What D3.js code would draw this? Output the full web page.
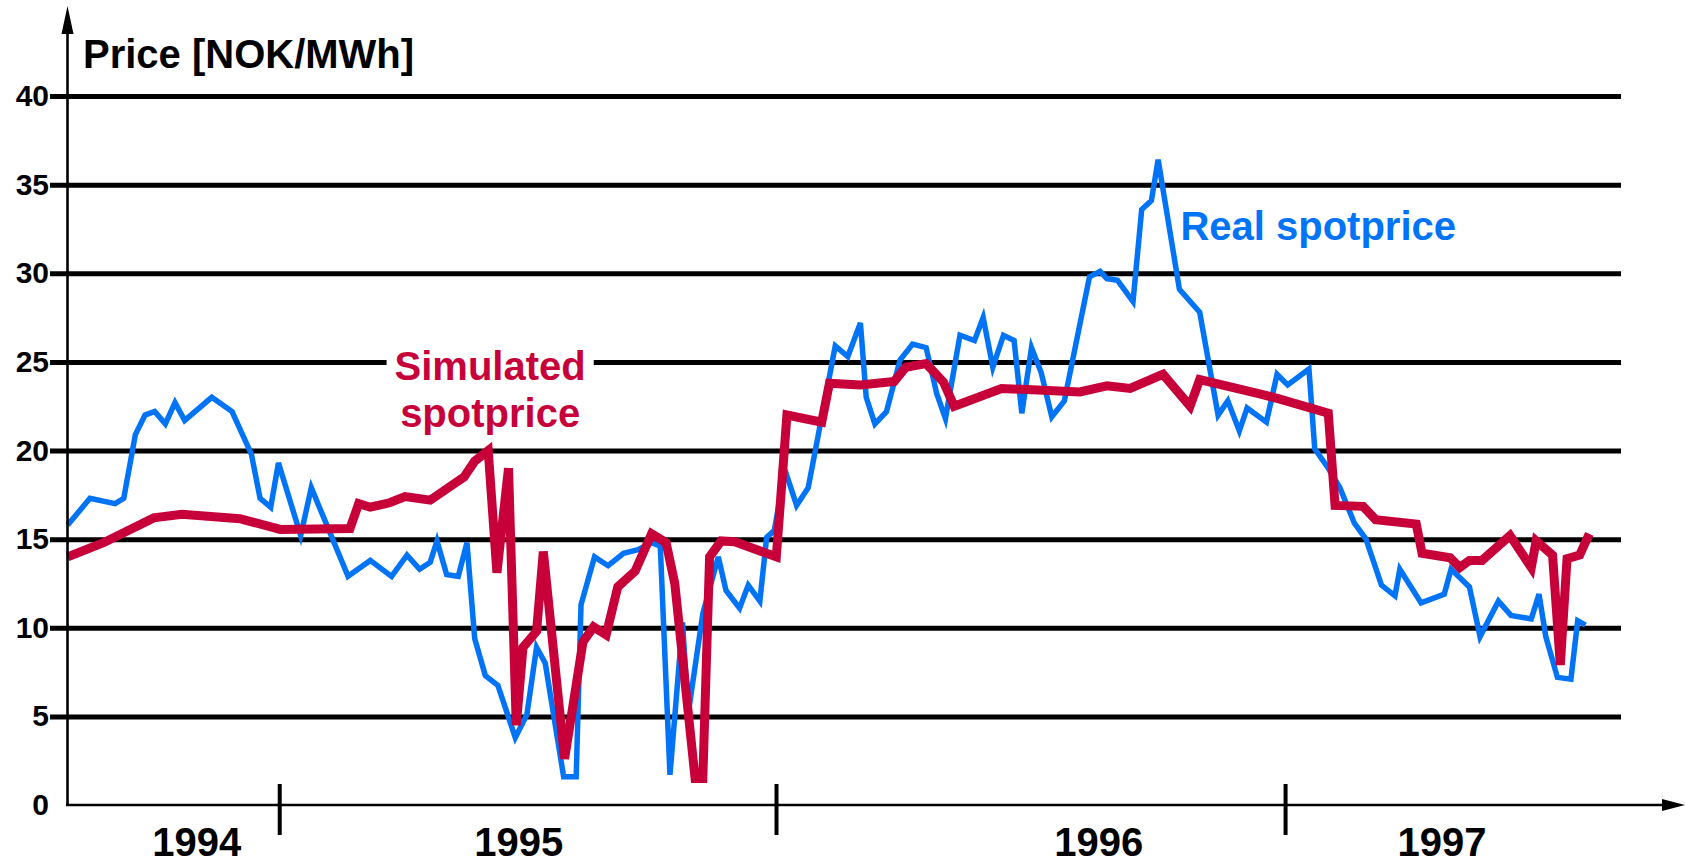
<!DOCTYPE html>
<html>
<head>
<meta charset="utf-8">
<script src="https://cdn.jsdelivr.net/npm/d3@7"></script>
<style>
  body { margin: 0; background: #fff; }
  svg { display: block; }
</style>
</head>
<body>
<svg></svg>
<script>
// weeks counted from the first observation (summer 1994), price in NOK/MWh
const realWeek  = [0, 2.3, 4.9, 5.8, 7.0, 8.0, 9.0, 10.1, 11.1, 12.1, 14.9, 17.0, 19.0, 19.9, 21.0, 21.8,
  24.1, 25.2, 29.0, 31.3, 33.5, 35.1, 36.4, 37.5, 38.2, 39.2, 40.4, 41.3, 42.1, 43.2, 44.5, 46.3,
  47.5, 48.5, 49.4, 51.3, 52.6, 53.1, 54.5, 55.9, 57.5, 59.0, 60.4, 61.3, 62.3, 63.6, 64.2, 65.7,
  67.3, 68.1, 69.5, 70.4, 71.6, 72.3, 73.1, 74.2, 75.4, 76.6, 79.4, 80.7, 82.0, 82.6, 83.5, 84.7,
  86.1, 87.4, 88.8, 89.9, 90.8, 92.3, 93.8, 94.7, 95.7, 96.8, 97.9, 98.7, 99.7, 100.7, 101.8, 103.1,
  105.7, 106.8, 107.5, 108.6, 110.2, 111.1, 112.1, 112.8, 115.0, 117.1, 119.0, 120.0, 121.2, 122.0,
  124.0, 125.1, 126.2, 128.4, 129.0, 130.4, 131.6, 133.1, 134.3, 135.9, 137.3, 137.8, 140.0, 142.4,
  143.1, 145.0, 146.1, 148.0, 149.3, 151.4, 152.2, 152.9, 154.1, 155.5, 156.2, 157.0];
const realPrice = [15.8, 17.3, 17.0, 17.3, 20.9, 22.0, 22.2, 21.5, 22.7, 21.7, 23.0, 22.2, 19.8, 17.3, 16.8, 19.3,
  15.2, 17.9, 12.9, 13.8, 12.9, 14.1, 13.3, 13.7, 14.9, 13.0, 12.9, 14.8, 9.4, 7.3, 6.75, 3.8,
  5.1, 8.9, 8.0, 1.6, 1.6, 11.3, 14.0, 13.5, 14.2, 14.4, 14.8, 14.6, 1.7, 10.3, 5.2, 10.8,
  14.0, 12.1, 11.1, 12.4, 11.5, 15.1, 15.5, 18.9, 16.9, 17.9, 25.9, 25.3, 27.2, 23.0, 21.5, 22.2,
  25.1, 26.0, 25.8, 23.2, 21.8, 26.5, 26.2, 27.5, 24.7, 26.5, 26.2, 22.1, 25.8, 24.4, 21.9, 22.8,
  29.8, 30.1, 29.7, 29.6, 28.4, 33.6, 34.1, 36.4, 29.1, 27.8, 22.0, 22.8, 21.1, 22.4,
  21.6, 24.3, 23.7, 24.6, 20.1, 19.0, 17.9, 15.9, 15.0, 12.4, 11.8, 13.3, 11.4, 11.9,
  13.3, 12.3, 9.5, 11.5, 10.7, 10.5, 11.9, 9.5, 7.2, 7.1, 10.4, 10.15];

const simWeek  = [0, 3.7, 8.9, 11.8, 17.8, 22.0, 29.2, 30.1, 31.3, 33.3, 34.9, 37.5, 41.0, 42.1, 43.5, 44.4,
  45.6, 46.4, 47.1, 48.5, 49.2, 51.4, 53.3, 54.4, 55.7, 56.9, 58.7, 60.4, 61.9, 62.8, 64.9, 65.7,
  66.4, 67.6, 69.0, 73.3, 74.4, 78.0, 78.8, 82.0, 85.5, 86.7, 88.8, 90.6, 91.7, 96.6, 104.7, 107.5,
  109.9, 113.3, 116.1, 117.1, 123.3, 125.4, 130.4, 131.1, 134.0, 135.3, 139.5, 140.1, 143.0, 144.0,
  145.0, 146.3, 149.2, 151.4, 151.9, 153.6, 154.4, 155.1, 156.4, 157.4];
const simPrice = [14.0, 14.8, 16.2, 16.4, 16.15, 15.55, 15.6, 17.0, 16.8, 17.05, 17.4, 17.2, 18.5, 19.4, 20.0, 13.1,
  19.0, 4.5, 8.9, 9.8, 14.3, 2.6, 9.2, 10.05, 9.6, 12.3, 13.2, 15.3, 14.8, 12.5, 1.5, 1.5,
  14.0, 14.9, 14.85, 14.0, 22.0, 21.6, 23.8, 23.7, 23.9, 24.7, 24.9, 23.85, 22.5, 23.5, 23.3, 23.65,
  23.5, 24.3, 22.5, 24.0, 23.2, 22.9, 22.1, 16.9, 16.85, 16.1, 15.85, 14.2, 13.95, 13.4,
  13.8, 13.8, 15.2, 13.4, 14.9, 14.1, 7.9, 13.9, 14.1, 15.3];

const priceTicks = [0, 5, 10, 15, 20, 25, 30, 35, 40];
const yearStarts = [21.88, 73.27, 125.93];
const yearLabels = ["1994", "1995", "1996", "1997"];
const yearLabelWeeks = [13.3, 46.6, 106.6, 142.1];

const blue = "#0073f7", red = "#c8003a";
const font = "'Liberation Sans', Arial, Helvetica, sans-serif";

const svg = d3.select("svg").attr("width", 1685).attr("height", 863);

const x = d3.scaleLinear().domain([0, 167.3]).range([67.7, 1685]);
const y = d3.scaleLinear().domain([0, 40]).range([805, 96]);

// horizontal grid lines with the price labels (no grid line at 0, the axis sits there)
const gy = svg.append("g")
  .attr("transform", "translate(50,0)")
  .call(d3.axisLeft(y).tickValues(priceTicks).tickSize(-1571).tickPadding(1).tickFormat(d3.format("d")));
gy.attr("font-size", 30).attr("font-weight", "bold").attr("font-family", font);
gy.select(".domain").remove();
gy.selectAll("line").attr("stroke", "#000").attr("stroke-width", 5);
gy.selectAll(".tick").filter(d => d === 0).select("line").remove();
gy.selectAll("text").attr("fill", "#000");

// labels for the two series
const simLabel = svg.append("g")
  .attr("font-family", font)
  .attr("font-size", 40)
  .attr("font-weight", "bold")
  .attr("fill", red)
  .attr("text-anchor", "middle");
const simLine1 = simLabel.append("text").attr("x", x(43.7)).attr("y", y(24)).text("Simulated");
simLabel.append("text").attr("x", x(43.7)).attr("y", y(21.35)).text("spotprice");
const bb = simLine1.node().getBBox();
simLabel.insert("rect", "text")
  .attr("x", bb.x - 8).attr("y", bb.y + 2)
  .attr("width", bb.width + 16).attr("height", bb.height - 4)
  .attr("fill", "#fff");

svg.append("text")
  .attr("x", x(115.1)).attr("y", y(31.9))
  .attr("font-family", font).attr("font-size", 40).attr("font-weight", "bold")
  .attr("fill", blue)
  .text("Real spotprice");

// the two price series
const line = d3.line().x(d => x(d[0])).y(d => y(d[1]));

svg.append("path")
  .datum(d3.zip(realWeek, realPrice))
  .attr("d", line)
  .attr("fill", "none")
  .attr("stroke", blue)
  .attr("stroke-width", 5.5)
  .attr("stroke-linejoin", "miter")
  .attr("stroke-miterlimit", 4);

svg.append("path")
  .datum(d3.zip(simWeek, simPrice))
  .attr("d", line)
  .attr("fill", "none")
  .attr("stroke", red)
  .attr("stroke-width", 9)
  .attr("stroke-linejoin", "miter")
  .attr("stroke-miterlimit", 4);

// axes with arrow heads
svg.append("path")
  .attr("d", "M67.5,805V28")
  .attr("stroke", "#000").attr("stroke-width", 2.6);
svg.append("path")
  .attr("d", "M67.5,6L73.5,34L61.5,34Z")
  .attr("fill", "#000");
svg.append("path")
  .attr("d", "M66,805H1664")
  .attr("stroke", "#000").attr("stroke-width", 2.6);
svg.append("path")
  .attr("d", "M1685,805L1662,799L1662,811Z")
  .attr("fill", "#000");

// year separators
const gs = svg.append("g")
  .attr("transform", "translate(0,784)")
  .call(d3.axisBottom(x).tickValues(yearStarts).tickSize(51).tickFormat(""));
gs.select(".domain").remove();
gs.selectAll("line").attr("stroke", "#000").attr("stroke-width", 4);

// year labels
const gl = svg.append("g")
  .attr("transform", "translate(0,856)")
  .call(d3.axisBottom(x).tickValues(yearLabelWeeks).tickSize(0).tickFormat((d, i) => yearLabels[i]));
gl.attr("font-size", 40).attr("font-weight", "bold").attr("font-family", font);
gl.select(".domain").remove();
gl.selectAll("text").attr("y", 0).attr("dy", 0).attr("fill", "#000");

// axis title
svg.append("text")
  .attr("x", 83).attr("y", 68)
  .attr("font-family", font).attr("font-size", 40).attr("font-weight", "bold")
  .text("Price [NOK/MWh]");
</script>
</body>
</html>
